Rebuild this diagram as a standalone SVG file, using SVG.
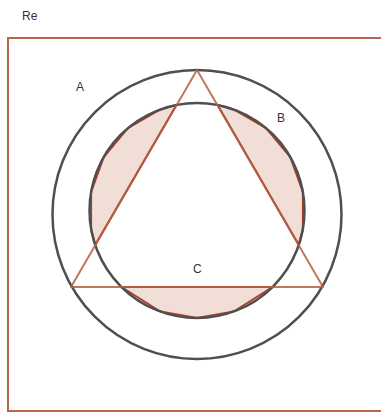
<svg xmlns="http://www.w3.org/2000/svg" width="381" height="413" viewBox="0 0 381 413">
<style>
.lbl{font-family:"Liberation Sans",Arial,sans-serif;font-size:12px;fill:#333}
.seg{fill:#f1ded7;stroke:#a8402a;stroke-width:2;stroke-linejoin:round}
.circ{fill:none;stroke:#4f4f4f;stroke-width:2.5}
</style>
<rect width="381" height="413" fill="#fff"/>
<g id="universe">
<rect x="8" y="38" width="400" height="373" fill="none" stroke="#b8674b" stroke-width="2"/>
<text class="lbl" x="22" y="20">Re</text>
</g>
<g id="A">
<circle class="circ" cx="197" cy="214.5" r="144.5"/>
<text class="lbl" x="76" y="91">A</text>
</g>
<g id="B">
<polygon class="seg" points="176.4,105 160.2,109.5 127.9,128.2 103.9,156.75 91.1,191.8 91.1,229.2 95.3,244.7"/>
<polygon class="seg" points="217.6,105 233.8,109.5 266.1,128.2 290.1,156.75 302.9,191.8 302.9,229.2 298.7,244.7"/>
<polygon class="seg" points="121.5,287 160.2,311.5 197,318 233.8,311.5 272.5,287"/>
<circle class="circ" cx="197" cy="210.5" r="107.5"/>
<text class="lbl" x="277" y="122">B</text>
</g>
<g id="C">
<polygon points="197,70 71,287 323,287" fill="none" stroke="#b5603f" stroke-opacity="0.85" stroke-width="2" stroke-linejoin="round"/>
<text class="lbl" x="193" y="273">C</text>
</g>
</svg>
